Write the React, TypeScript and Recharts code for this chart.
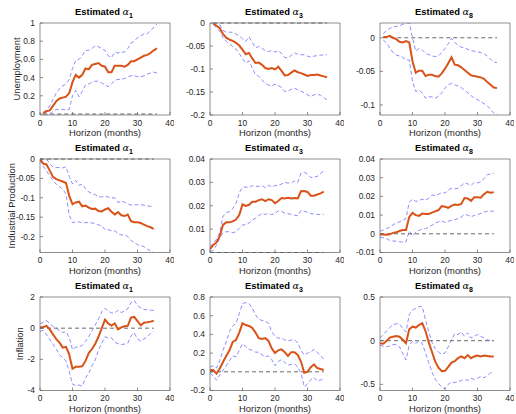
import { LineChart, Line, XAxis, YAxis, ReferenceLine } from "recharts";

// horizons: unemployment responses start at month 1, the others at month 0
const HORIZON_1_36 = [
  1, 2, 3, 4, 5, 6, 7, 8, 9, 10,
  11, 12, 13, 14, 15, 16, 17, 18, 19, 20,
  21, 22, 23, 24, 25, 26, 27, 28, 29, 30,
  31, 32, 33, 34, 35, 36,
];
const HORIZON_0_35 = [
  0, 1, 2, 3, 4, 5, 6, 7, 8, 9,
  10, 11, 12, 13, 14, 15, 16, 17, 18, 19,
  20, 21, 22, 23, 24, 25, 26, 27, 28, 29,
  30, 31, 32, 33, 34, 35,
];
const X_TICKS = [0, 10, 20, 30, 40];
const ALPHAS = [1, 3, 8];

// Unemployment
const UNEMP_A1_EST = [
  0.01, 0.03, 0.04, 0.09, 0.14, 0.17, 0.18, 0.19, 0.23, 0.35,
  0.43, 0.40, 0.43, 0.50, 0.49, 0.54, 0.55, 0.56, 0.53, 0.52,
  0.46, 0.46, 0.53, 0.53, 0.53, 0.52, 0.54, 0.58, 0.58, 0.60,
  0.62, 0.64, 0.65, 0.67, 0.70, 0.72,
];
const UNEMP_A1_HI = [
  0.02, 0.04, 0.09, 0.16, 0.23, 0.28, 0.31, 0.33, 0.38, 0.50,
  0.59, 0.60, 0.64, 0.70, 0.70, 0.72, 0.75, 0.74, 0.72, 0.70,
  0.64, 0.62, 0.68, 0.67, 0.68, 0.68, 0.72, 0.78, 0.80, 0.84,
  0.86, 0.88, 0.88, 0.92, 0.95, 0.99,
];
const UNEMP_A1_LO = [
  -0.01, -0.01, 0.0, 0.03, 0.05, 0.05, 0.05, 0.045, 0.05, 0.2,
  0.26, 0.19, 0.25, 0.32, 0.33, 0.35, 0.36, 0.36, 0.34, 0.32,
  0.30, 0.33, 0.37, 0.38, 0.38, 0.39, 0.41, 0.42, 0.42, 0.41,
  0.41, 0.42, 0.44, 0.45, 0.46, 0.45,
];
const UNEMP_A1_TICKS = [0, 0.2, 0.4, 0.6, 0.8, 1];

const UNEMP_A3_EST = [
  -0.001, -0.006, -0.011, -0.024, -0.032, -0.036, -0.039, -0.043, -0.049, -0.058,
  -0.068, -0.065, -0.077, -0.087, -0.086, -0.091, -0.098, -0.1, -0.098, -0.101,
  -0.095, -0.104, -0.114, -0.113, -0.108, -0.103, -0.107, -0.109, -0.112, -0.115,
  -0.113, -0.113, -0.112, -0.114, -0.116, -0.118,
];
const UNEMP_A3_HI = [
  0.001, 0.0, -0.004, -0.016, -0.02, -0.02, -0.02, -0.024, -0.028, -0.034,
  -0.04, -0.03, -0.042, -0.054, -0.051, -0.055, -0.06, -0.062, -0.06, -0.063,
  -0.06, -0.066, -0.075, -0.076, -0.07, -0.065, -0.068, -0.069, -0.069, -0.072,
  -0.074, -0.072, -0.071, -0.07, -0.069, -0.069,
];
const UNEMP_A3_LO = [
  -0.004, -0.01, -0.018, -0.032, -0.04, -0.046, -0.051, -0.057, -0.066, -0.078,
  -0.087, -0.082, -0.098, -0.112, -0.116, -0.124, -0.131, -0.135, -0.137, -0.133,
  -0.136, -0.14, -0.149, -0.148, -0.144, -0.142, -0.145, -0.148, -0.152, -0.156,
  -0.16, -0.156, -0.155, -0.157, -0.162, -0.167,
];
const UNEMP_A3_TICKS = [-0.2, -0.15, -0.1, -0.05, 0];

const UNEMP_A8_EST = [
  0.001, 0.001, 0.003, 0.0, -0.002, -0.006, -0.007, -0.005, -0.007, -0.035,
  -0.052, -0.049, -0.049, -0.057, -0.055, -0.055, -0.057, -0.058, -0.053, -0.046,
  -0.038, -0.029, -0.04, -0.041, -0.044, -0.048, -0.052, -0.056, -0.057, -0.058,
  -0.059, -0.061, -0.066, -0.07, -0.074, -0.075,
];
const UNEMP_A8_HI = [
  0.006, 0.011, 0.014, 0.016, 0.017, 0.018, 0.02, 0.022, 0.022, 0.0,
  -0.02, -0.016, -0.018, -0.023, -0.025, -0.027, -0.028, -0.027, -0.022, -0.016,
  -0.009, -0.001, -0.007, -0.011, -0.014, -0.015, -0.017, -0.019, -0.02, -0.021,
  -0.022, -0.024, -0.027, -0.032, -0.036, -0.037,
];
const UNEMP_A8_LO = [
  -0.003, -0.008, -0.015, -0.022, -0.026, -0.027, -0.029, -0.033, -0.033, -0.065,
  -0.08, -0.078, -0.082, -0.09, -0.088, -0.088, -0.09, -0.087, -0.082, -0.075,
  -0.07, -0.068, -0.07, -0.072, -0.074, -0.078, -0.082, -0.086, -0.09, -0.092,
  -0.095, -0.098, -0.101, -0.107, -0.112, -0.114,
];
const UNEMP_A8_TICKS = [-0.1, -0.05, 0];

// Industrial production
const IP_A1_EST = [
  0.0, -0.012, -0.014, -0.03, -0.046, -0.052, -0.055, -0.058, -0.062, -0.095,
  -0.117, -0.112, -0.11, -0.122, -0.12, -0.125, -0.129, -0.128, -0.134, -0.135,
  -0.13, -0.127, -0.136, -0.143, -0.137, -0.145, -0.147, -0.143, -0.16, -0.163,
  -0.163, -0.165, -0.169, -0.173, -0.176, -0.18,
];
const IP_A1_HI = [
  0.001, 0.001, 0.0, -0.012, -0.021, -0.022, -0.022, -0.023, -0.02, -0.045,
  -0.064, -0.055, -0.068, -0.065, -0.076, -0.085, -0.089, -0.092, -0.097, -0.098,
  -0.096, -0.098, -0.1, -0.1, -0.112, -0.109, -0.111, -0.116, -0.119, -0.118,
  -0.118, -0.118, -0.119, -0.121, -0.122, -0.122,
];
const IP_A1_LO = [
  -0.003, -0.018, -0.031, -0.043, -0.056, -0.065, -0.071, -0.078, -0.09, -0.145,
  -0.164, -0.162, -0.162, -0.165, -0.164, -0.164, -0.165, -0.166, -0.17, -0.172,
  -0.182, -0.182, -0.185, -0.185, -0.192, -0.196, -0.195, -0.2, -0.21, -0.215,
  -0.221, -0.223, -0.226, -0.232, -0.237, -0.241,
];
const IP_A1_TICKS = [-0.2, -0.15, -0.1, -0.05, 0];

const IP_A3_EST = [
  0.0015, 0.0032, 0.0043, 0.007, 0.0118, 0.0129, 0.0129, 0.0133, 0.0141, 0.016,
  0.0206, 0.0199, 0.0204, 0.0217, 0.0217, 0.0224, 0.0228, 0.022, 0.0228, 0.0224,
  0.0211, 0.022, 0.0233, 0.0231, 0.0234, 0.0231, 0.0233, 0.0231, 0.0262, 0.0263,
  0.0259, 0.0243, 0.0243, 0.0248, 0.0253, 0.026,
];
const IP_A3_HI = [
  0.0024, 0.004, 0.0057, 0.0085, 0.0155, 0.017, 0.0175, 0.0188, 0.021, 0.0255,
  0.0279, 0.028, 0.0277, 0.0286, 0.0283, 0.0283, 0.0286, 0.0277, 0.0288, 0.028,
  0.0286, 0.0287, 0.0293, 0.03, 0.0297, 0.0298, 0.0306, 0.03, 0.034, 0.0343,
  0.0336, 0.0321, 0.0322, 0.0326, 0.0338, 0.0349,
];
const IP_A3_LO = [
  0.0003, 0.001, 0.0031, 0.0063, 0.0085, 0.0089, 0.0089, 0.0085, 0.0088, 0.0103,
  0.0118, 0.0119, 0.0126, 0.0139, 0.0146, 0.0158, 0.0167, 0.0163, 0.0167, 0.0162,
  0.0166, 0.0178, 0.0176, 0.0169, 0.0166, 0.0163, 0.016, 0.0157, 0.018, 0.0177,
  0.0172, 0.0167, 0.0164, 0.0163, 0.0163, 0.0163,
];
const IP_A3_TICKS = [0, 0.01, 0.02, 0.03, 0.04];

const IP_A8_EST = [
  -0.0004, -0.0004, -0.0005, -0.0003, 0.0005, 0.0008, 0.0015, 0.002, 0.002, 0.009,
  0.0112, 0.01, 0.0096, 0.0108, 0.0106, 0.0106, 0.0113, 0.012, 0.0127, 0.0148,
  0.0145, 0.0139, 0.0149, 0.0157, 0.0154, 0.016, 0.0191, 0.0189, 0.0176, 0.0195,
  0.0195, 0.0193, 0.0212, 0.0225, 0.022, 0.0222,
];
const IP_A8_HI = [
  0.0014, 0.002, 0.0028, 0.0036, 0.0048, 0.0058, 0.0064, 0.0071, 0.0082, 0.017,
  0.0185, 0.0173, 0.0178, 0.0185, 0.0181, 0.0189, 0.0207, 0.0204, 0.0212, 0.022,
  0.0218, 0.0234, 0.0243, 0.024, 0.0244, 0.0257, 0.0272, 0.0267, 0.0258, 0.0275,
  0.0272, 0.0278, 0.0295, 0.0316, 0.032, 0.0323,
];
const IP_A8_LO = [
  -0.0018, -0.0022, -0.0026, -0.0035, -0.0039, -0.0039, -0.0042, -0.0045, -0.0044, 0.0015,
  -0.0012, 0.0008, 0.0018, 0.0025, 0.0028, 0.0035, 0.0046, 0.0057, 0.0064, 0.0068,
  0.0061, 0.0068, 0.0071, 0.0075, 0.0082, 0.009, 0.0104, 0.01, 0.0091, 0.0098,
  0.0102, 0.0109, 0.0116, 0.0121, 0.0121, 0.0121,
];
const IP_A8_TICKS = [-0.01, 0, 0.01, 0.02, 0.03, 0.04];

// Inflation
const INFL_A1_EST = [
  0.05, 0.08, 0.15, -0.08, -0.4, -0.7, -0.93, -1.25, -1.2, -1.7,
  -2.6, -2.48, -2.47, -2.45, -2.1, -1.6, -1.34, -1.0, -0.55, 0.0,
  0.55, 0.3, 0.17, 0.3, -0.08, 0.05, 0.12, 0.15, 0.68, 0.72,
  0.45, 0.18, 0.35, 0.38, 0.42, 0.48,
];
const INFL_A1_HI = [
  0.28, 0.38, 0.48, 0.3, 0.1, 0.0, -0.15, -0.28, -0.22, -0.6,
  -1.38, -1.22, -1.2, -1.1, -0.85, -0.55, -0.15, 0.2, 0.6, 1.05,
  1.28, 1.1, 0.97, 0.97, 1.15, 1.0, 1.1, 1.25, 1.65, 1.78,
  1.45, 1.3, 1.2, 1.18, 1.15, 1.14,
];
const INFL_A1_LO = [
  -0.2, -0.14, -0.42, -0.72, -1.03, -1.35, -1.7, -1.9, -2.1, -2.8,
  -3.6, -3.68, -3.65, -3.72, -3.2, -2.88, -2.41, -2.03, -1.39, -0.96,
  -0.55, -0.62, -0.63, -0.9, -1.0, -1.05, -1.02, -0.96, -0.5, -0.3,
  -0.7, -0.82, -0.7, -0.55, -0.35, -0.2,
];
const INFL_A1_TICKS = [-4, -2, 0, 2];

const INFL_A3_EST = [
  0.02, 0.02, -0.02, 0.035, 0.105, 0.17, 0.23, 0.32, 0.34, 0.42,
  0.52, 0.5, 0.49, 0.47, 0.42, 0.36, 0.35, 0.36, 0.33, 0.25,
  0.2, 0.23, 0.24, 0.21, 0.17, 0.21, 0.21, 0.18, 0.11, -0.01,
  0.0, 0.05, 0.08, 0.04, 0.03, 0.02,
];
const INFL_A3_HI = [
  0.05, 0.065, 0.04, 0.12, 0.23, 0.32, 0.43, 0.49, 0.52, 0.62,
  0.73, 0.74, 0.73, 0.68, 0.61, 0.56, 0.55, 0.54, 0.52, 0.43,
  0.38, 0.36, 0.36, 0.34, 0.33, 0.34, 0.34, 0.31, 0.23, 0.18,
  0.2, 0.21, 0.24, 0.21, 0.17, 0.14,
];
const INFL_A3_LO = [
  -0.015, -0.045, -0.09, -0.035, 0.015, 0.065, 0.12, 0.17, 0.16, 0.23,
  0.3, 0.27, 0.24, 0.23, 0.21, 0.21, 0.18, 0.16, 0.17, 0.13,
  0.065, 0.11, 0.13, 0.1, 0.07, 0.08, 0.085, 0.055, -0.02, -0.16,
  -0.13, -0.085, -0.06, -0.1, -0.085, -0.09,
];
const INFL_A3_TICKS = [-0.2, 0, 0.2, 0.4, 0.6, 0.8];

const INFL_A8_EST = [
  -0.03, -0.035, -0.005, 0.035, 0.045, 0.053, 0.045, 0.01, -0.03, 0.13,
  0.16, 0.15, 0.18, 0.2, 0.11, -0.02, -0.13, -0.24, -0.31, -0.35,
  -0.345, -0.3, -0.25, -0.235, -0.2, -0.18, -0.2, -0.165, -0.2, -0.18,
  -0.17, -0.18, -0.17, -0.175, -0.18, -0.18,
];
const INFL_A8_HI = [
  0.03, 0.07, 0.11, 0.15, 0.18, 0.195, 0.19, 0.14, 0.1, 0.3,
  0.35, 0.37, 0.39, 0.39, 0.24, 0.1, -0.02, -0.09, -0.13, -0.155,
  -0.14, -0.07, 0.01, 0.08, 0.07, 0.1, 0.05, 0.09, 0.03, 0.05,
  0.07, 0.05, 0.03, 0.01, 0.0, -0.004,
];
const INFL_A8_LO = [
  -0.05, -0.065, -0.07, -0.06, -0.045, -0.045, -0.07, -0.15, -0.22, -0.05,
  -0.01, -0.03, -0.005, -0.03, -0.14, -0.25, -0.36, -0.44, -0.49, -0.53,
  -0.55, -0.5, -0.47, -0.48, -0.47, -0.455, -0.445, -0.455, -0.43, -0.445,
  -0.43, -0.41, -0.425, -0.4, -0.37, -0.355,
];
const INFL_A8_TICKS = [-0.5, 0, 0.5];

// look
const FONT = "'Liberation Sans', Arial, Helvetica, sans-serif";
const TEXT = "#262626";
const AXIS = "#5e5e5e";
const RED = "#D95319";
const BLUE = "#6f6fff";
const ZERO = "#6a6a6a";

// layout (px)
const COL_LEFT = [40, 210, 380];
const ROW_TOP = [23, 159, 297];
const ROW_H = [92, 93.5, 93.5];
const PLOT_W = 130;
const PAD_L = 40;
const PAD_R = 4;
const PAD_T = 4;
const PAD_B = 16;
const TICK_LEN = 3;

interface PanelSpec {
  horizon: number[];
  est: number[];
  lo: number[];
  hi: number[];
  domain: [number, number];
  ticks: number[];
}

interface RowSpec {
  label: string;
  labelX: number;
  panels: PanelSpec[];
}

const ROWS: RowSpec[] = [
  {
    label: "Unemployment",
    labelX: 16.5,
    panels: [
      { horizon: HORIZON_1_36, est: UNEMP_A1_EST, lo: UNEMP_A1_LO, hi: UNEMP_A1_HI, domain: [-0.011, 1], ticks: UNEMP_A1_TICKS },
      { horizon: HORIZON_1_36, est: UNEMP_A3_EST, lo: UNEMP_A3_LO, hi: UNEMP_A3_HI, domain: [-0.2, 0], ticks: UNEMP_A3_TICKS },
      { horizon: HORIZON_1_36, est: UNEMP_A8_EST, lo: UNEMP_A8_LO, hi: UNEMP_A8_HI, domain: [-0.115, 0.022], ticks: UNEMP_A8_TICKS },
    ],
  },
  {
    label: "Industrial Production",
    labelX: 11.5,
    panels: [
      { horizon: HORIZON_0_35, est: IP_A1_EST, lo: IP_A1_LO, hi: IP_A1_HI, domain: [-0.241, 0], ticks: IP_A1_TICKS },
      { horizon: HORIZON_0_35, est: IP_A3_EST, lo: IP_A3_LO, hi: IP_A3_HI, domain: [0, 0.04], ticks: IP_A3_TICKS },
      { horizon: HORIZON_0_35, est: IP_A8_EST, lo: IP_A8_LO, hi: IP_A8_HI, domain: [-0.01, 0.04], ticks: IP_A8_TICKS },
    ],
  },
  {
    label: "Inflation",
    labelX: 20,
    panels: [
      { horizon: HORIZON_0_35, est: INFL_A1_EST, lo: INFL_A1_LO, hi: INFL_A1_HI, domain: [-4, 2], ticks: INFL_A1_TICKS },
      { horizon: HORIZON_0_35, est: INFL_A3_EST, lo: INFL_A3_LO, hi: INFL_A3_HI, domain: [-0.2, 0.8], ticks: INFL_A3_TICKS },
      { horizon: HORIZON_0_35, est: INFL_A8_EST, lo: INFL_A8_LO, hi: INFL_A8_HI, domain: [-0.57, 0.5], ticks: INFL_A8_TICKS },
    ],
  },
];

const axisLine = { stroke: AXIS, strokeWidth: 0.7 };
const tickLine = { stroke: AXIS, strokeWidth: 0.7 };
const tickStyle = { fill: TEXT, fontSize: 8.4, fontFamily: FONT };

function Panel({ spec, left, top, height }: { spec: PanelSpec; left: number; top: number; height: number }) {
  const data = spec.horizon.map((h, i) => ({ h, est: spec.est[i], lo: spec.lo[i], hi: spec.hi[i] }));
  const first = spec.horizon[0];
  const last = spec.horizon[spec.horizon.length - 1];

  return (
    <div style={{ position: "absolute", left: left - PAD_L, top: top - PAD_T }}>
      <LineChart
        width={PAD_L + PLOT_W + PAD_R}
        height={PAD_T + height + PAD_B}
        data={data}
        margin={{ top: PAD_T - 1, right: PAD_R - 1, left: 0, bottom: 0 }}
      >
        <XAxis
          xAxisId="b"
          dataKey="h"
          type="number"
          domain={[0, 40]}
          ticks={X_TICKS}
          allowDataOverflow
          interval={0}
          height={PAD_B}
          tickSize={-TICK_LEN}
          tickMargin={7.6}
          tick={tickStyle}
          axisLine={axisLine}
          tickLine={tickLine}
        />
        <XAxis
          xAxisId="t"
          orientation="top"
          dataKey="h"
          type="number"
          domain={[0, 40]}
          ticks={X_TICKS}
          allowDataOverflow
          interval={0}
          height={1}
          tickSize={-TICK_LEN}
          tick={false}
          axisLine={axisLine}
          tickLine={tickLine}
        />
        <YAxis
          yAxisId="l"
          type="number"
          domain={spec.domain}
          ticks={spec.ticks}
          allowDataOverflow
          interval={0}
          width={PAD_L}
          tickSize={-TICK_LEN}
          tickMargin={8}
          tick={tickStyle}
          tickFormatter={(v: number) => String(v)}
          axisLine={axisLine}
          tickLine={tickLine}
        />
        <YAxis
          yAxisId="r"
          orientation="right"
          type="number"
          domain={spec.domain}
          ticks={spec.ticks}
          allowDataOverflow
          interval={0}
          width={1}
          tickSize={-TICK_LEN}
          tick={false}
          axisLine={axisLine}
          tickLine={tickLine}
        />
        <Line xAxisId="b" yAxisId="l" type="linear" dataKey="hi" stroke={BLUE} strokeWidth={0.8} strokeDasharray="4 2.5" dot={false} isAnimationActive={false} />
        <Line xAxisId="b" yAxisId="l" type="linear" dataKey="lo" stroke={BLUE} strokeWidth={0.8} strokeDasharray="4 2.5" dot={false} isAnimationActive={false} />
        <ReferenceLine
          xAxisId="b"
          yAxisId="l"
          segment={[{ x: first, y: 0 }, { x: last, y: 0 }]}
          stroke={ZERO}
          strokeWidth={1}
          strokeDasharray="4 3"
        />
        <Line xAxisId="b" yAxisId="l" type="linear" dataKey="est" stroke={RED} strokeWidth={2} dot={false} isAnimationActive={false} />
      </LineChart>
    </div>
  );
}

// titles and axis labels, drawn on one svg layer over the grid of panels
function Labels() {
  return (
    <svg width={516} height={414} style={{ position: "absolute", left: 0, top: 0, pointerEvents: "none" }} fontFamily={FONT}>
      {ROWS.map((row, r) => {
        const top = ROW_TOP[r];
        const bottom = top + ROW_H[r];
        const cy = top + ROW_H[r] / 2;
        return (
          <g key={row.label}>
            <text
              x={row.labelX + 3.3}
              y={cy}
              transform={`rotate(-90 ${row.labelX + 3.3} ${cy})`}
              textAnchor="middle"
              fontSize={9.4}
              fill={TEXT}
            >
              {row.label}
            </text>
            {COL_LEFT.map((left, c) => (
              <g key={c}>
                <text x={left + PLOT_W / 2 - 1} y={top - 7.8} textAnchor="middle" fontSize={9.4} fontWeight="bold" fill="#000">
                  Estimated{" "}
                  <tspan fontFamily="'DejaVu Serif', serif" fontStyle="italic" fontWeight="normal" fontSize={9.6}>
                    α
                  </tspan>
                  <tspan dy={2.6} fontSize={7}>
                    {ALPHAS[c]}
                  </tspan>
                </text>
                <text x={left + PLOT_W / 2} y={bottom + 21} textAnchor="middle" fontSize={9.4} fill={TEXT}>
                  Horizon (months)
                </text>
              </g>
            ))}
          </g>
        );
      })}
    </svg>
  );
}

export default function App() {
  return (
    <div
      style={{
        position: "absolute",
        left: 0,
        top: 0,
        width: 516,
        height: 414,
        background: "#fff",
        overflow: "hidden",
      }}
    >
      {ROWS.map((row, r) =>
        row.panels.map((spec, c) => (
          <Panel key={`${r}-${c}`} spec={spec} left={COL_LEFT[c]} top={ROW_TOP[r]} height={ROW_H[r]} />
        ))
      )}
      <Labels />
    </div>
  );
}
